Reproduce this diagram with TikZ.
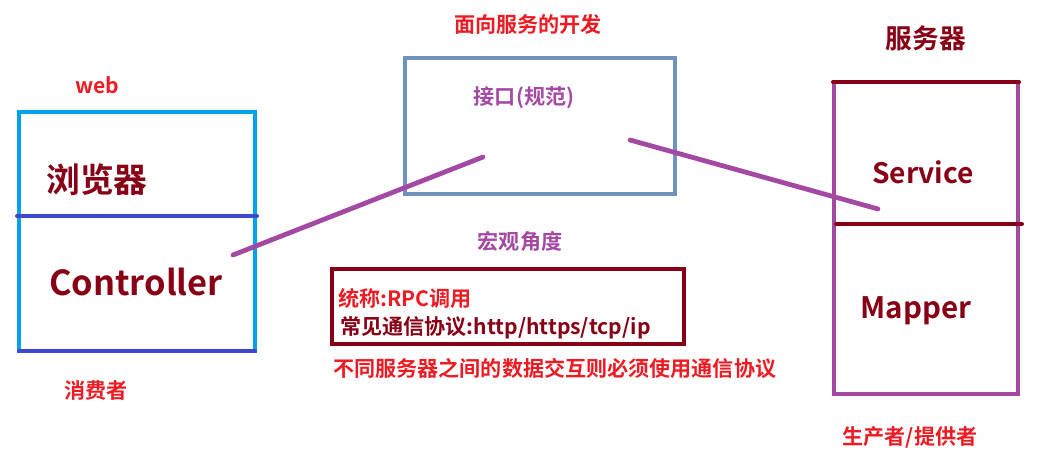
\documentclass[tikz,border=0pt]{standalone}
\usepackage{fontspec}
\setmainfont{Noto Sans CJK SC}[BoldFont={Noto Sans CJK SC Bold}]
\usetikzlibrary{positioning}

\definecolor{pred}{RGB}{237,28,36}
\definecolor{pdarkred}{RGB}{136,0,21}
\definecolor{ppurple}{RGB}{163,73,164}
\definecolor{pcyan}{RGB}{0,162,232}
\definecolor{pindigo}{RGB}{63,72,204}
\definecolor{pbluegray}{RGB}{112,146,190}

\begin{document}
\begin{tikzpicture}[
	  x=0.025cm, y=-0.025cm,
	  redlabel/.style={text=pred, font=\bfseries\fontsize{15}{18}\selectfont, inner sep=0pt},
	  purplelabel/.style={text=ppurple, font=\bfseries\fontsize{15}{18}\selectfont, inner sep=0pt},
	  layer/.style={text=pdarkred, font=\bfseries\fontsize{21}{25}\selectfont, inner sep=0pt},
	  frame/.style={line width=2.85pt},
	  link/.style={ppurple, line width=3.4pt, line cap=round}
	]

	\useasboundingbox (0,0) rectangle (1040,458);

	% consumer side
	\draw [frame, pcyan] (19,112) rectangle (255,351);
	\draw [frame, pindigo, line cap=round] (17,216) -- (257,216);
	\draw [frame, pindigo, line cap=round] (19,351) -- (255,351);
	\node (web) [redlabel] at (97,85) {web};
	\node (browser) [layer, font=\bfseries\fontsize{24}{28}\selectfont] at (97,180) {浏览器};
	\node (controller) [layer, font=\bfseries\fontsize{24.5}{28}\selectfont] at (136,282) {Controller};
	\node (consumer) [redlabel] at (96,390) {消费者};

	% interface
	\node (soa) [redlabel] at (528,24) {面向服务的开发};
	\draw [frame, pbluegray] (405,58) rectangle (675,194);
	\node (iface) [purplelabel] at (524,98) {接口(规范)};
	\node (macro) [purplelabel] at (520,241) {宏观角度};

	% rpc note
	\draw [frame, pdarkred] (332,269) rectangle (684,344);
	\node (rpc) [redlabel, anchor=west] at (338,298) {统称:RPC调用};
	\node (proto) [redlabel, text=pdarkred, anchor=west] at (340,328) {常见通信协议:http/https/tcp/ip};
	\node (rule) [redlabel, anchor=west] at (333,368) {不同服务器之间的数据交互则必须使用通信协议};

	% provider side
	\node (server) [layer, font=\bfseries\fontsize{19}{23}\selectfont] at (926,38) {服务器};
	\draw [frame, ppurple] (834,82) rectangle (1018,394);
	\draw [frame, pdarkred, line cap=round] (833,82) -- (1019,82);
	\draw [frame, pdarkred, line cap=round] (836,224) -- (1022,224);
	\node (service) [layer, font=\bfseries\fontsize{20}{24}\selectfont] at (923,172) {Service};
	\node (mapper) [layer] at (916,311) {Mapper};
	\node (provider) [redlabel] at (910,437) {生产者/提供者};

	% links
	\coordinate (c1) at (233,255);
	\coordinate (c2) at (483,157);
	\coordinate (c3) at (630,140);
	\coordinate (c4) at (878,209);
	\draw [link] (c1) -- (c2);
	\draw [link] (c3) -- (c4);

\end{tikzpicture}
\end{document}
